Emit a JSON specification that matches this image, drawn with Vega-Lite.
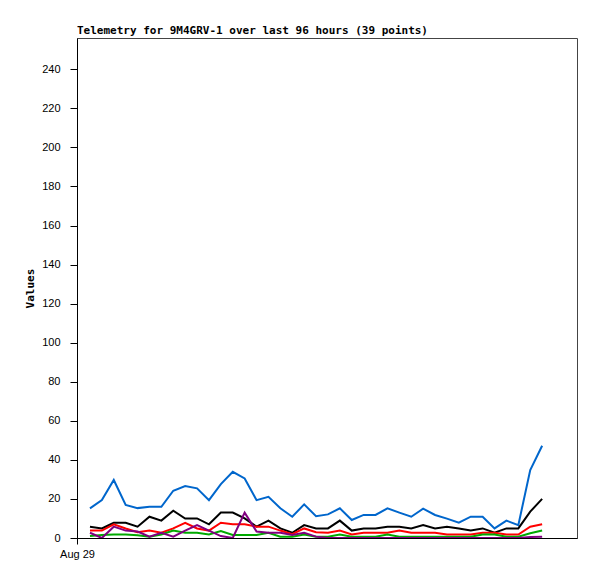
{
  "$schema": "https://vega.github.io/schema/vega-lite/v6.json",
  "autosize": "none",
  "padding": {"left": 77, "top": 38, "right": 20, "bottom": 41},
  "width": 500,
  "height": 500,
  "title": {
    "text": "Telemetry for 9M4GRV-1 over last 96 hours (39 points)",
    "anchor": "start",
    "frame": "group",
    "font": "DejaVu Sans Mono",
    "fontSize": 11,
    "fontWeight": "bold",
    "color": "black",
    "offset": 2
  },
  "data": {
    "values": [
      {"i": 0, "A": 15.2, "B": 5.8, "C": 3.8, "D": 1.0, "E": 2.7},
      {"i": 1, "A": 19.4, "B": 4.9, "C": 3.8, "D": 1.5, "E": 0},
      {"i": 2, "A": 29.7, "B": 7.8, "C": 7.0, "D": 1.8, "E": 5.8},
      {"i": 3, "A": 16.9, "B": 7.8, "C": 4.9, "D": 1.8, "E": 3.8},
      {"i": 4, "A": 15.3, "B": 5.8, "C": 3.0, "D": 1.4, "E": 3.3},
      {"i": 5, "A": 16.0, "B": 10.9, "C": 3.8, "D": 0.7, "E": 0.7},
      {"i": 6, "A": 16.0, "B": 8.9, "C": 2.7, "D": 1.8, "E": 2.7},
      {"i": 7, "A": 24.2, "B": 14.0, "C": 4.9, "D": 3.8, "E": 0.7},
      {"i": 8, "A": 26.6, "B": 10.0, "C": 7.8, "D": 2.7, "E": 3.8},
      {"i": 9, "A": 25.4, "B": 10.0, "C": 4.9, "D": 2.7, "E": 6.6},
      {"i": 10, "A": 19.4, "B": 7.0, "C": 3.8, "D": 1.8, "E": 3.8},
      {"i": 11, "A": 27.6, "B": 13.0, "C": 7.8, "D": 3.6, "E": 1.0},
      {"i": 12, "A": 33.9, "B": 13.0, "C": 7.0, "D": 1.5, "E": 0},
      {"i": 13, "A": 30.5, "B": 10.0, "C": 7.0, "D": 1.5, "E": 13.0},
      {"i": 14, "A": 19.4, "B": 5.8, "C": 5.8, "D": 1.5, "E": 3.3},
      {"i": 15, "A": 21.1, "B": 8.9, "C": 5.8, "D": 2.7, "E": 2.7},
      {"i": 16, "A": 15.2, "B": 4.9, "C": 3.8, "D": 0.7, "E": 2.7},
      {"i": 17, "A": 10.9, "B": 2.7, "C": 2.0, "D": 0.7, "E": 1.5},
      {"i": 18, "A": 17.2, "B": 6.6, "C": 4.9, "D": 1.8, "E": 2.7},
      {"i": 19, "A": 11.2, "B": 4.9, "C": 3.0, "D": 0.7, "E": 0.7},
      {"i": 20, "A": 12.1, "B": 4.9, "C": 2.7, "D": 0.7, "E": 0},
      {"i": 21, "A": 15.2, "B": 8.9, "C": 3.8, "D": 1.8, "E": 0},
      {"i": 22, "A": 9.2, "B": 3.8, "C": 1.8, "D": 0.7, "E": 0},
      {"i": 23, "A": 11.8, "B": 4.9, "C": 2.7, "D": 0.7, "E": 0},
      {"i": 24, "A": 11.8, "B": 4.9, "C": 2.7, "D": 0.7, "E": 0},
      {"i": 25, "A": 15.2, "B": 5.8, "C": 2.7, "D": 1.8, "E": 0},
      {"i": 26, "A": 13.0, "B": 5.8, "C": 3.8, "D": 0.7, "E": 0},
      {"i": 27, "A": 10.9, "B": 4.9, "C": 2.7, "D": 0.7, "E": 0},
      {"i": 28, "A": 15.0, "B": 6.6, "C": 2.7, "D": 0.7, "E": 0},
      {"i": 29, "A": 11.8, "B": 4.9, "C": 2.7, "D": 0.7, "E": 0},
      {"i": 30, "A": 9.9, "B": 5.8, "C": 1.8, "D": 0.7, "E": 0},
      {"i": 31, "A": 7.8, "B": 4.9, "C": 1.8, "D": 0.7, "E": 0},
      {"i": 32, "A": 10.9, "B": 3.8, "C": 1.8, "D": 0.7, "E": 0},
      {"i": 33, "A": 10.9, "B": 4.9, "C": 2.7, "D": 1.8, "E": 0},
      {"i": 34, "A": 4.9, "B": 2.7, "C": 2.7, "D": 1.8, "E": 0},
      {"i": 35, "A": 8.9, "B": 4.9, "C": 1.8, "D": 0.7, "E": 0},
      {"i": 36, "A": 6.6, "B": 4.9, "C": 1.8, "D": 0.7, "E": 0},
      {"i": 37, "A": 34.8, "B": 13.5, "C": 5.8, "D": 2.4, "E": 0.5},
      {"i": 38, "A": 47.2, "B": 20.0, "C": 7.0, "D": 3.8, "E": 0.7}
    ]
  },
  "transform": [
    {"fold": ["A", "B", "C", "D", "E"], "as": ["series", "value"]}
  ],
  "mark": {"type": "line", "strokeWidth": 2, "clip": true},
  "encoding": {
    "x": {
      "field": "i",
      "type": "quantitative",
      "scale": {"domain": [-1.09, 40.93], "nice": false, "zero": false},
      "axis": {
        "title": null,
        "values": [-1.09],
        "labelExpr": "'Aug 29'",
        "labelAlign": "center",
        "labelFlush": false,
        "grid": false,
        "tickSize": 6,
        "labelPadding": 4,
        "labelFont": "Liberation Sans",
        "labelFontSize": 11,
        "labelColor": "black",
        "domainColor": "black",
        "tickColor": "black"
      }
    },
    "y": {
      "field": "value",
      "type": "quantitative",
      "scale": {"domain": [0, 256], "nice": false},
      "axis": {
        "title": "Values",
        "titleFont": "DejaVu Sans Mono",
        "titleFontSize": 11,
        "titleFontWeight": "bold",
        "titleColor": "black",
        "titlePadding": 6,
        "values": [0, 20, 40, 60, 80, 100, 120, 140, 160, 180, 200, 220, 240],
        "grid": false,
        "tickSize": 7,
        "labelPadding": 10,
        "labelFont": "Liberation Sans",
        "labelFontSize": 11,
        "labelColor": "black",
        "domainColor": "black",
        "tickColor": "black"
      }
    },
    "color": {
      "field": "series",
      "type": "nominal",
      "scale": {
        "domain": ["A", "B", "C", "D", "E"],
        "range": ["#0066cc", "#000000", "#ff0000", "#00aa00", "#800080"]
      },
      "legend": null
    }
  },
  "config": {
    "view": {"stroke": "#444444", "strokeWidth": 1}
  }
}
